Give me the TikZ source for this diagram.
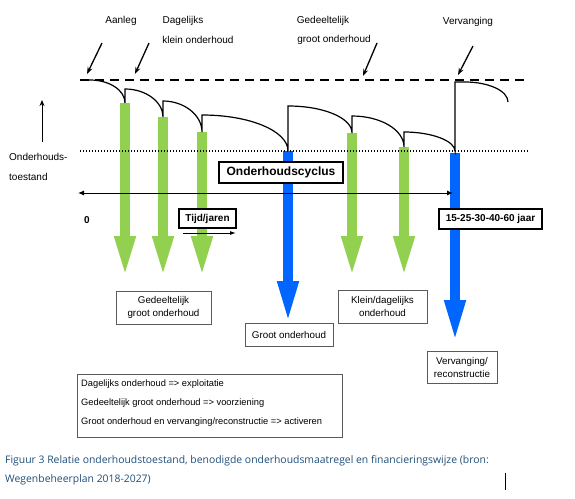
\documentclass[tikz,border=0pt]{standalone}
\usepackage{fontspec}
\setmainfont{Liberation Sans}
\newfontfamily\capfont{Open Sans}
\usetikzlibrary{arrows.meta}
\definecolor{barblue}{RGB}{0,102,255}
\definecolor{bargreen}{RGB}{146,208,80}
\definecolor{capblue}{RGB}{31,78,121}
\definecolor{boxgray}{RGB}{90,90,90}

\begin{document}
\begin{tikzpicture}[x=1pt,y=-1pt,
  lbl/.style={font=\fontsize{10}{11}\selectfont, inner sep=0pt},
  leg/.style={font=\fontsize{9.3}{10}\selectfont, inner sep=0pt, anchor=west},
  ptr/.style={line width=1.3pt, -{Stealth[length=7pt,width=5pt]}},
  gbar/.style={draw=bargreen, line width=9.5pt, -{Triangle[width=19pt,length=42pt]}},
  bbar/.style={draw=barblue, line width=9.5pt, -{Triangle[width=19pt,length=43pt]}},
  boldbox/.style={draw, line width=1.8pt, fill=white, inner sep=0pt, font=\bfseries\fontsize{10}{11}\selectfont},
  labelbox/.style={draw=boxgray, line width=0.8pt, fill=white, inner sep=0pt, align=center, font=\fontsize{9.8}{13}\selectfont},
  captext/.style={anchor=west, inner sep=0pt, text=capblue, font=\capfont\fontsize{10.4}{12}\selectfont}]
  \useasboundingbox (0,0) rectangle (575,498);

  % top labels
  \node[lbl] (aan) at (121, 21) {Aanleg};
  \node[lbl] (dag) at (183, 21) {Dagelijks};
  \node[lbl] (kle) at (198, 40) {klein onderhoud};
  \node[lbl] (ged) at (323, 21) {Gedeeltelijk};
  \node[lbl] (gro) at (334, 40) {groot onderhoud};
  \node[lbl] (ver) at (468, 22) {Vervanging};
  \node[lbl, anchor=west] (ond) at (9, 157) {Onderhouds-};
  \node[lbl, anchor=west] (toe) at (9, 177) {toestand};
  \node[lbl, font=\bfseries\fontsize{10}{11}\selectfont] (nul) at (87, 220) {0};

  % pointers
  \coordinate (p1) at (102, 43);  \coordinate (q1) at (87, 74);
  \coordinate (p2) at (149, 43);  \coordinate (q2) at (135, 74);
  \coordinate (p3) at (377, 43);  \coordinate (q3) at (363, 76);
  \coordinate (p4) at (473, 46);  \coordinate (q4) at (458, 75);
  \coordinate (p5) at (42, 142);  \coordinate (q5) at (42, 100);
  \draw [ptr] (p1) to (q1);
  \draw [ptr] (p2) to (q2);
  \draw [ptr] (p3) to (q3);
  \draw [ptr] (p4) to (q4);
  \draw [line width=1pt, -{Stealth[length=6pt,width=5pt]}] (p5) to (q5);

  % dips and tops of the curve
  \coordinate (s) at (80, 80);   \coordinate (s1) at (90, 80);
  \coordinate (d1) at (125, 103); \coordinate (t1) at (125, 89);
  \coordinate (d2) at (163, 117); \coordinate (t2) at (163, 101);
  \coordinate (d3) at (202, 132); \coordinate (t3) at (202, 115);
  \coordinate (d4) at (288, 151); \coordinate (t4) at (288, 106);
  \coordinate (d5) at (352, 133); \coordinate (t5) at (352, 116);
  \coordinate (d6) at (404, 147); \coordinate (t6) at (404, 132);
  \coordinate (d7) at (455, 151); \coordinate (t7) at (455, 82);
  \coordinate (t8) at (465, 82);  \coordinate (e) at (508, 102);

  % bars
  \draw [gbar] (d1) to (125, 278);
  \draw [gbar] (d2) to (163, 278);
  \draw [gbar] (d3) to (202, 278);
  \draw [bbar] (d4) to (288, 324);
  \draw [gbar] (d5) to (352, 278);
  \draw [gbar] (d6) to (404, 278);
  \draw [bbar] (455, 153) to (455, 343);

  % levels
  \draw [line width=1.3pt, dash pattern=on 9pt off 6pt] (80, 80) -- (528, 80);
  \draw [line width=1.2pt, dash pattern=on 1.2pt off 1.8pt] (80, 151) -- (528, 151);

  % condition curve
  \draw [line width=1.2pt] (s) -- (s1) .. controls +(19,0) and +(0,-13) .. (d1) -- (t1)
    .. controls +(21,0) and +(0,-15) .. (d2) -- (t2)
    .. controls +(21,0) and +(0,-17) .. (d3) -- (t3)
    .. controls +(48,0) and +(0,-20) .. (d4) -- (t4)
    .. controls +(36,0) and +(0,-15) .. (d5) -- (t5)
    .. controls +(29,0) and +(0,-17) .. (d6) -- (t6)
    .. controls +(28,0) and +(0,-10) .. (d7) -- (t7) -- (t8)
    .. controls +(24,0) and +(0,-11) .. (e);

  % time axis
  \coordinate (a0) at (78, 193);
  \coordinate (a1) at (453, 193);
  \draw [line width=1pt, {Latex[length=6pt,width=5pt]}-{Latex[length=6pt,width=5pt]}] (a0) to (a1);
  \coordinate (r0) at (183, 233);
  \coordinate (r1) at (236, 233);
  \draw [line width=1pt, -{Latex[length=6pt,width=4pt]}] (r0) to (r1);

  \node[boldbox, minimum width=124, minimum height=21, font=\bfseries\fontsize{12}{13}\selectfont] (cyc) at (281, 172.5) {Onderhoudscyclus};
  \node[boldbox, minimum width=57, minimum height=19] (tij) at (207.5, 218.5) {Tijd/jaren};
  \node[boldbox, minimum width=103, minimum height=20] (jaa) at (490.5, 219) {15-25-30-40-60 jaar};

  % measure boxes
  \node[labelbox, minimum width=95, minimum height=33] (b1) at (163.5, 307.5) {Gedeeltelijk\\groot onderhoud};
  \node[labelbox, minimum width=88, minimum height=23] (b2) at (289, 334.5) {Groot onderhoud};
  \node[labelbox, minimum width=89, minimum height=33] (b3) at (382.5, 306.5) {Klein/dagelijks\\onderhoud};
  \node[labelbox, minimum width=70, minimum height=32] (b4) at (462, 367) {Vervanging/\\reconstructie};

  % legend
  \draw [draw=boxgray, line width=0.8pt] (77, 374) rectangle (342, 437);
  \node[leg] (l1) at (81, 384) {Dagelijks onderhoud => exploitatie};
  \node[leg] (l2) at (81, 403) {Gedeeltelijk groot onderhoud => voorziening};
  \node[leg] (l3) at (81, 422) {Groot onderhoud en vervanging/reconstructie => activeren};

  % caption
  \node[captext] (c1) at (5, 461) {Figuur 3 Relatie onderhoudstoestand, benodigde onderhoudsmaatregel en financieringswijze (bron:};
  \node[captext] (c2) at (5, 480) {Wegenbeheerplan 2018-2027)};
  \draw [line width=0.8pt] (505, 473) -- (505, 490);
\end{tikzpicture}
\end{document}
